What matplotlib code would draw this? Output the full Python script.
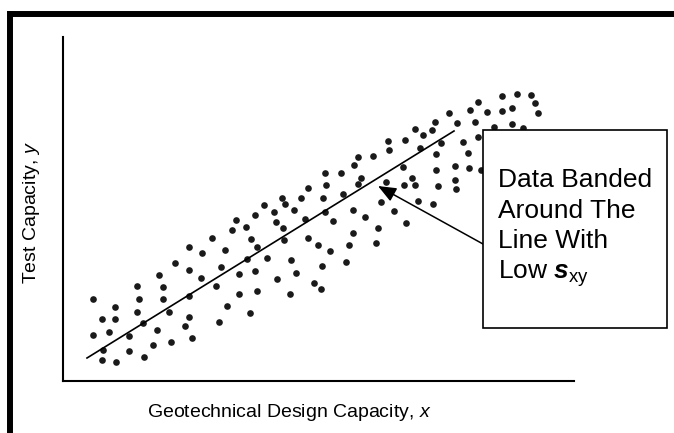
import matplotlib
matplotlib.use("Agg")
import matplotlib.pyplot as plt
from matplotlib.patches import Rectangle
from matplotlib.lines import Line2D

plt.rcParams['font.family'] = ['Liberation Sans', 'DejaVu Sans']
plt.rcParams['mathtext.fontset'] = 'custom'
plt.rcParams['mathtext.rm'] = 'Liberation Sans'
plt.rcParams['mathtext.it'] = 'Liberation Sans:italic'
plt.rcParams['mathtext.bf'] = 'Liberation Sans:bold'
plt.rcParams['mathtext.bfit'] = 'Liberation Sans:italic:bold'

pts_x = [159.3, 136.7, 163.3, 92.7, 138.7, 163, 115, 137.3, 169, 102, 115.3, 142.7,
         157, 92.7, 109.3, 128.7, 170.7, 152.7, 103.3, 129.3, 101.7, 116, 144,
         264.3, 255.3, 236, 232, 246, 212, 251.3, 189.3, 224.7, 257, 201.7, 175,
         246.7, 266.7, 189.3, 221, 201, 255.3, 239, 216.3, 188.7, 238.7, 257, 227,
         189.3, 250, 184.7, 219.3, 191.7,
         357.7, 354, 324.7, 341.3, 361.3, 326, 358.3, 308, 342.7, 282, 300.7, 323.3,
         285.3, 273.7, 294, 325, 353.3, 276, 304.7, 333, 365.3, 283, 353.3, 283.7,
         308, 318, 349, 330.3, 290.7, 346.3, 322.3, 296.3, 276.7, 313.7, 320.7, 290.3,
         449, 456.7, 435, 415.3, 431.7, 423, 388, 404.7, 440.7, 462.7, 388.7, 420.3,
         373.3, 436.3, 403.3, 436.3, 455, 412.3, 385.7, 404.3, 414.7, 438, 454.7, 456,
         381.3, 417.7, 433, 394, 378.3, 405.7, 376,
         502.3, 517.3, 531, 478, 534.7, 470.3, 487.3, 501.7, 512.3, 538, 475, 494.3,
         512, 523.3, 478, 468.3, 469.3, 480.7]
pts_y = [275.3, 286, 287.3, 299.3, 299.3, 299, 306.7, 312, 311.7, 319, 318.7, 323,
         329.7, 334.7, 332.3, 336.3, 342, 344.7, 350.3, 351.3, 360, 362, 357.3,
         205.3, 215.3, 220.3, 230.3, 227, 237.7, 239, 247.3, 250, 247, 253, 262.5,
         259, 258.3, 270, 267, 278, 271.3, 274, 285.7, 295.7, 294, 291.3, 305.7,
         316.7, 313.3, 325.7, 322.3, 337.7,
         157.3, 164.7, 172.7, 173.3, 178, 184.7, 184.3, 187.7, 194, 197.7, 198.3, 198.3,
         204.3, 211.7, 210.3, 211.7, 209.7, 222, 218.7, 220.7, 217.3, 228, 232.7, 240,
         237.7, 245, 244.7, 250.7, 259.7, 261.7, 266.3, 272.7, 279, 283.3, 289.3, 293.7,
         113.3, 122.7, 122, 129.3, 129.7, 135, 141, 140, 143.3, 142.3, 150.3, 148.3,
         156.3, 154.3, 167.3, 169.7, 165.7, 177.7, 182.3, 185.3, 185, 186, 180.3, 189,
         201.7, 201.3, 203.7, 211, 227.7, 223.3, 242.7,
         95.7, 94, 95.3, 102, 103.3, 110.3, 112, 111, 108.3, 113, 122, 126.7,
         124.3, 127.7, 136.7, 152.7, 167.7, 170]

line_x = [87, 454]
line_y = [358, 131]

box_lines = ["Data Banded", "Around The", "Line With", r"Low $\mathbfit{s}_{\mathrm{xy}}$"]

W, H = 674, 433
fig = plt.figure(figsize=(W / 100, H / 100), dpi=100)

def fx(x):
    return x / W

def fy(y):
    return 1 - y / H

ax = fig.add_axes([fx(63), fy(381), fx(574) - fx(63), fy(37) - fy(381)])
ax.set_xlim(63, 574)
ax.set_ylim(381, 37)
ax.set_xticks([])
ax.set_yticks([])
ax.spines['top'].set_visible(False)
ax.spines['right'].set_visible(False)
ax.spines['left'].set_linewidth(1.5)
ax.spines['bottom'].set_linewidth(1.5)

ax.plot(pts_x, pts_y, 'o', color='#1a1a1a', ms=4.8, mec='none', zorder=2)
ax.plot(line_x, line_y, color='black', lw=1.2, zorder=3)

# text box
ax.add_patch(Rectangle((483, 130), 184, 198, fill=True, fc='white', ec='black',
                       lw=1.2, clip_on=False, zorder=5))
for i, s in enumerate(box_lines):
    ax.text(498, 187 + 30.5 * i, s, fontsize=19, ha='left', va='baseline',
            clip_on=False, zorder=6)

ax.annotate("", xy=(378, 186), xytext=(483, 244),
            arrowprops=dict(arrowstyle='-|>,head_length=1.1,head_width=0.45',
                            color='black', lw=1.1, shrinkA=0, shrinkB=0),
            annotation_clip=False, zorder=4)

fig.text(fx(289), fy(417), r"Geotechnical Design Capacity, $\mathit{x}$",
         fontsize=14, ha='center', va='baseline')
fig.text(fx(32), fy(213), r"Test Capacity, $\mathit{y}$", fontsize=14,
         ha='center', va='center', rotation=90)

# thick frame, only top and left edges visible
fig.add_artist(Line2D([fx(9.5), fx(W + 5)], [fy(13.5), fy(13.5)], color='black',
                      lw=4.3, solid_capstyle='butt'))
fig.add_artist(Line2D([fx(9.5), fx(9.5)], [fy(10.5), fy(H + 5)], color='black',
                      lw=4.3, solid_capstyle='butt'))

fig.savefig("out.png", dpi=100)
